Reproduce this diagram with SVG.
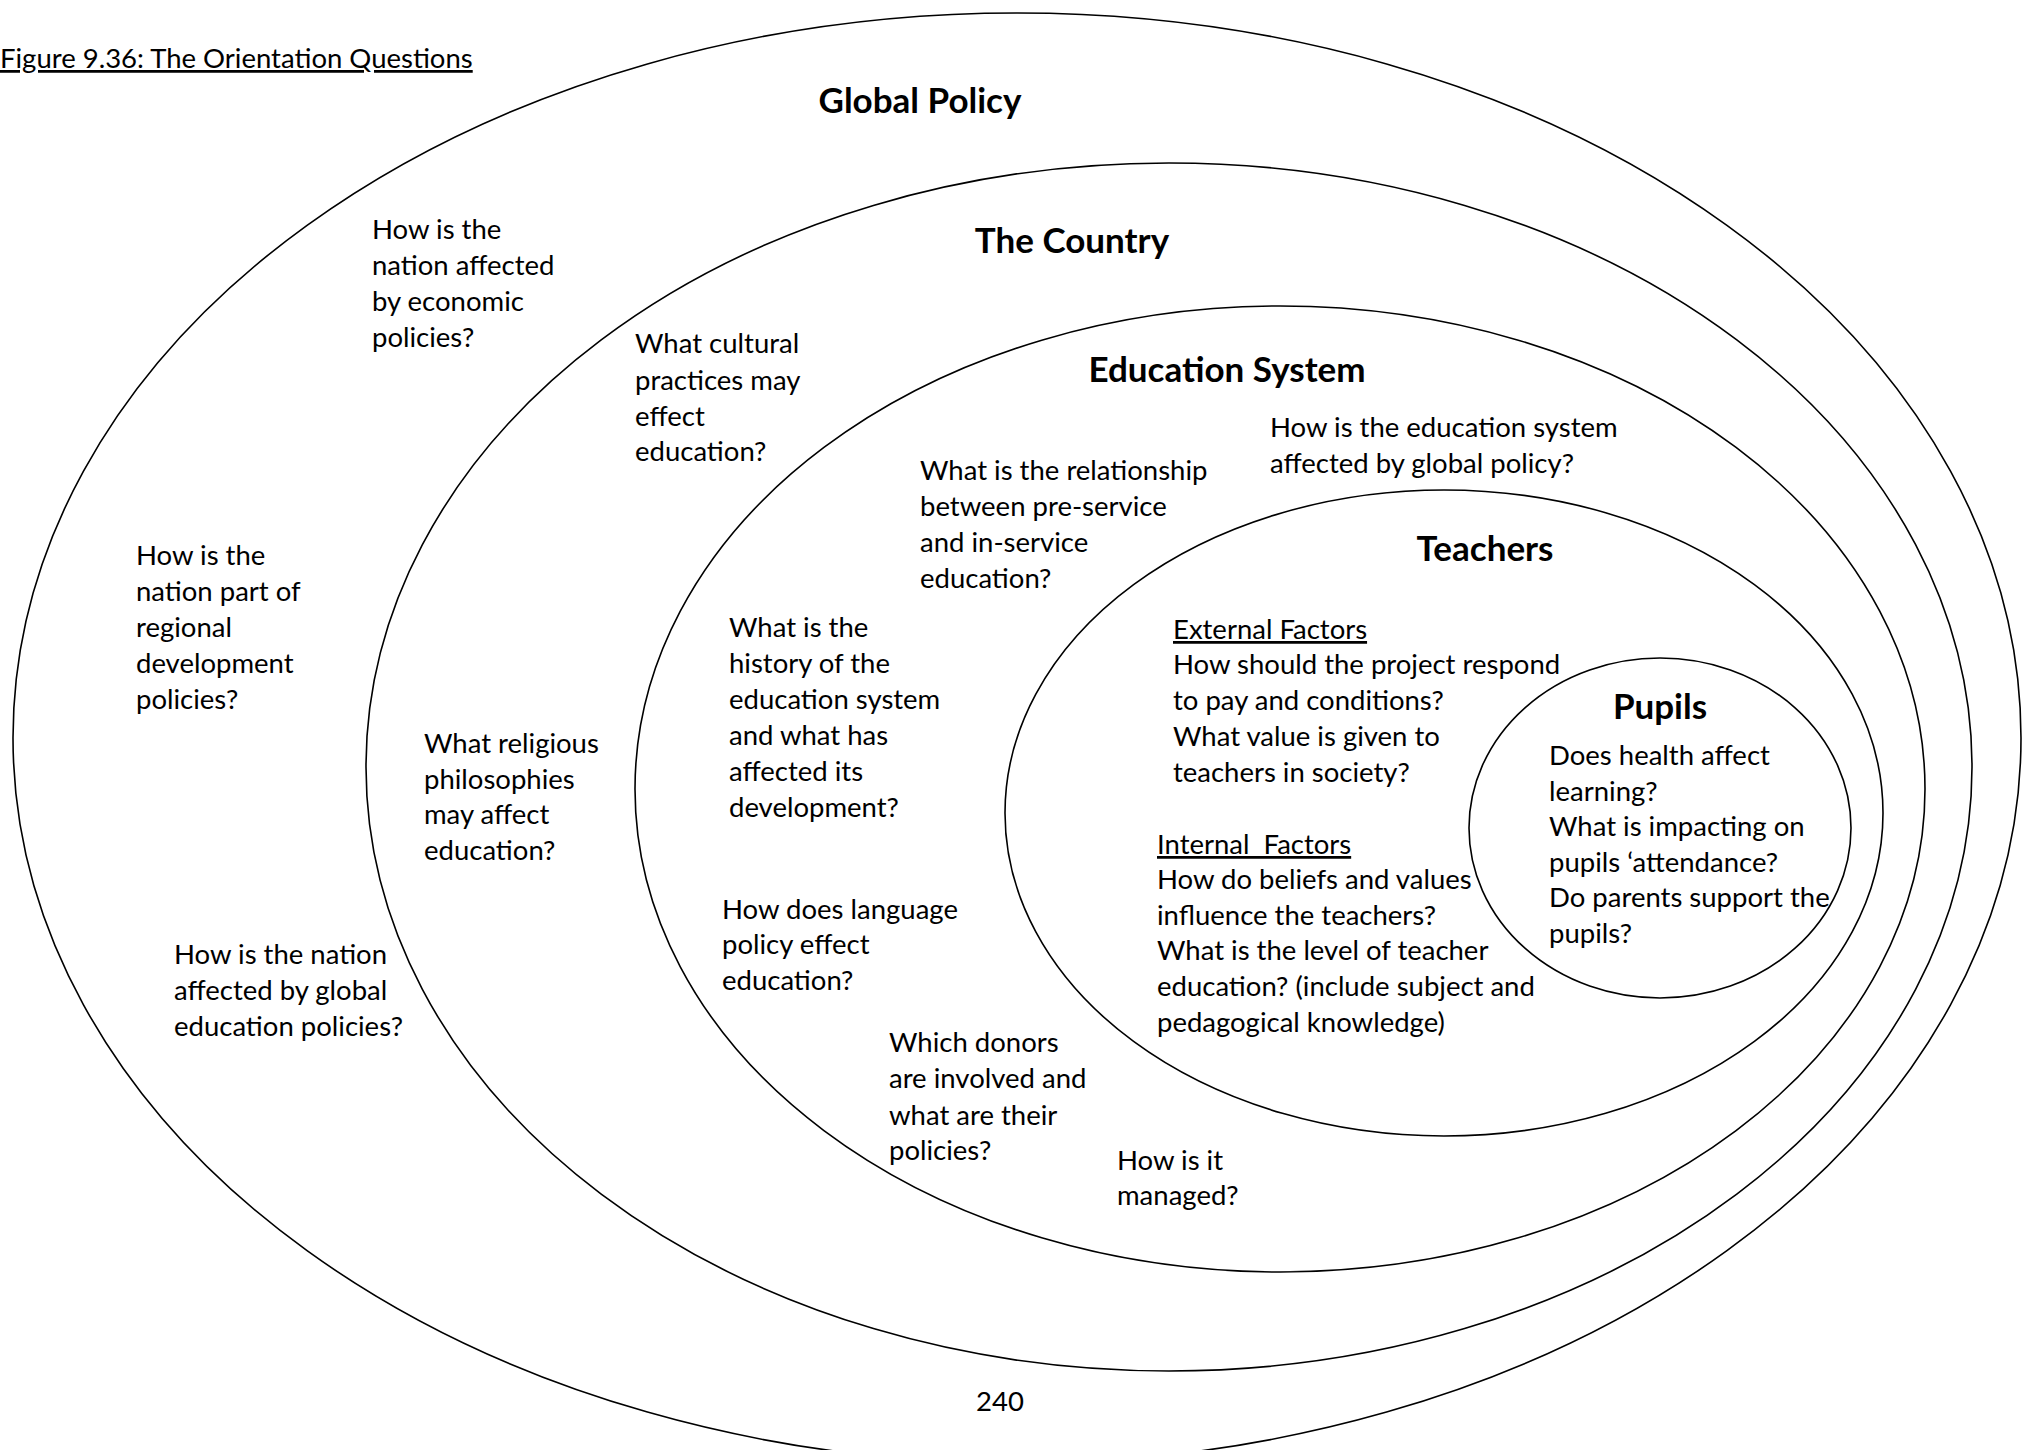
<svg xmlns="http://www.w3.org/2000/svg" width="2031" height="1450" viewBox="0 0 2031 1450">
  <style>
    .ring { fill: none; stroke: #000; stroke-width: 1.6; }
    .q { font-family: Lato, "Open Sans", sans-serif; font-size: 27.5px; fill: #000; }
    .h { font-family: Lato, "Open Sans", sans-serif; font-size: 35px; font-weight: bold; fill: #000; text-anchor: middle; }
    .u { text-decoration: underline; }
  </style>
  <rect width="2031" height="1450" fill="#fff"/>

  <!-- caption and page number -->
  <text id="caption" class="q u" x="0" y="68">Figure 9.36: The Orientation Questions</text>
  <text id="page-number" class="q" x="1000" y="1411" text-anchor="middle">240</text>

  <!-- nested circles of influence, outermost first -->
  <g id="global-policy">
    <ellipse class="ring" cx="1017" cy="738" rx="1004" ry="725"/>
    <text class="h" x="920" y="113">Global Policy</text>
    <text class="q"><tspan x="372" y="239">How is the</tspan><tspan x="372" y="275">nation affected</tspan><tspan x="372" y="311">by economic</tspan><tspan x="372" y="347">policies?</tspan></text>
    <text class="q"><tspan x="136" y="565">How is the</tspan><tspan x="136" y="601">nation part of</tspan><tspan x="136" y="637">regional</tspan><tspan x="136" y="673">development</tspan><tspan x="136" y="709">policies?</tspan></text>
    <text class="q"><tspan x="174" y="964">How is the nation</tspan><tspan x="174" y="1000">affected by global</tspan><tspan x="174" y="1036">education policies?</tspan></text>
  </g>

  <g id="the-country">
    <ellipse class="ring" cx="1169" cy="767" rx="803" ry="604"/>
    <text class="h" x="1072" y="253">The Country</text>
    <text class="q"><tspan x="635" y="353">What cultural</tspan><tspan x="635" y="390">practices may</tspan><tspan x="635" y="426">effect</tspan><tspan x="635" y="461">education?</tspan></text>
    <text class="q"><tspan x="424" y="753">What religious</tspan><tspan x="424" y="789">philosophies</tspan><tspan x="424" y="824">may affect</tspan><tspan x="424" y="860">education?</tspan></text>
  </g>

  <g id="education-system">
    <ellipse class="ring" cx="1280" cy="789" rx="645" ry="483"/>
    <text class="h" x="1227" y="382">Education System</text>
    <text class="q"><tspan x="1270" y="437">How is the education system</tspan><tspan x="1270" y="473">affected by global policy?</tspan></text>
    <text class="q"><tspan x="920" y="480">What is the relationship</tspan><tspan x="920" y="516">between pre-service</tspan><tspan x="920" y="552">and in-service</tspan><tspan x="920" y="588">education?</tspan></text>
    <text class="q"><tspan x="729" y="637">What is the</tspan><tspan x="729" y="673">history of the</tspan><tspan x="729" y="709">education system</tspan><tspan x="729" y="745">and what has</tspan><tspan x="729" y="781">affected its</tspan><tspan x="729" y="817">development?</tspan></text>
    <text class="q"><tspan x="722" y="919">How does language</tspan><tspan x="722" y="954">policy effect</tspan><tspan x="722" y="990">education?</tspan></text>
    <text class="q"><tspan x="889" y="1052">Which donors</tspan><tspan x="889" y="1088">are involved and</tspan><tspan x="889" y="1125">what are their</tspan><tspan x="889" y="1160">policies?</tspan></text>
    <text class="q"><tspan x="1117" y="1170">How is it</tspan><tspan x="1117" y="1205">managed?</tspan></text>
  </g>

  <g id="teachers">
    <ellipse class="ring" cx="1444" cy="813" rx="439" ry="323"/>
    <text class="h" x="1485" y="561">Teachers</text>
    <text class="q u" x="1173" y="639">External Factors</text>
    <text class="q"><tspan x="1173" y="674">How should the project respond</tspan><tspan x="1173" y="710">to pay and conditions?</tspan><tspan x="1173" y="746">What value is given to</tspan><tspan x="1173" y="782">teachers in society?</tspan></text>
    <text class="q u" x="1157" y="854" xml:space="preserve">Internal  Factors</text>
    <text class="q"><tspan x="1157" y="889">How do beliefs and values</tspan><tspan x="1157" y="925">influence the teachers?</tspan><tspan x="1157" y="960">What is the level of teacher</tspan><tspan x="1157" y="996">education? (include subject and</tspan><tspan x="1157" y="1032">pedagogical knowledge)</tspan></text>
  </g>

  <g id="pupils">
    <ellipse class="ring" cx="1660" cy="828" rx="191" ry="170"/>
    <text class="h" x="1660" y="719">Pupils</text>
    <text class="q"><tspan x="1549" y="765">Does health affect</tspan><tspan x="1549" y="801">learning?</tspan><tspan x="1549" y="836">What is impacting on</tspan><tspan x="1549" y="872">pupils ‘attendance?</tspan><tspan x="1549" y="907">Do parents support the</tspan><tspan x="1549" y="943">pupils?</tspan></text>
  </g>

  <!-- the rings are only nested, there are no arrows between them -->
  <g id="connectors"/>
</svg>
